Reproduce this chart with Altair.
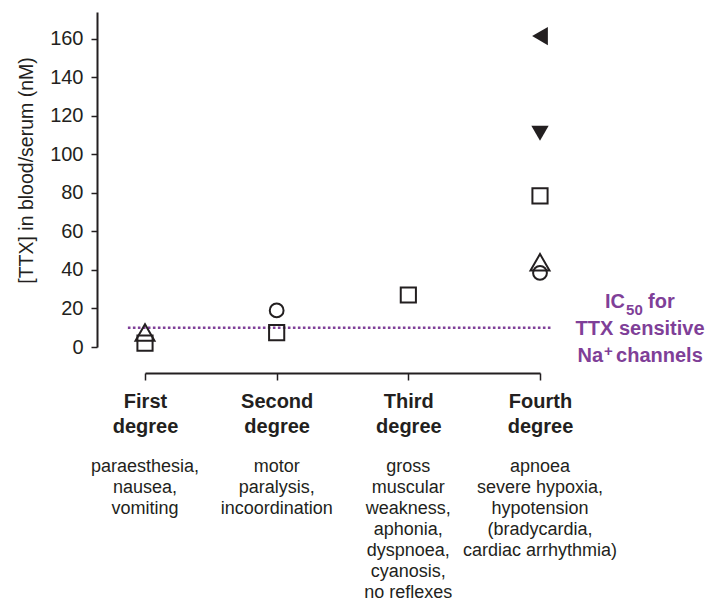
import json
import altair as alt
import pandas as pd

# ---------------- data ----------------
degree = [1, 1, 2, 2, 3, 4, 4, 4, 4, 4]
ttx = [7.5, 2, 19, 7.5, 27, 161.5, 111, 78.5, 44, 38.5]
marker = ["triangle-up", "square", "circle", "square", "square",
          "triangle-left", "triangle-down", "square", "triangle-up", "circle"]
solid = [False, False, False, False, False, True, True, False, False, False]

categories = [1, 2, 3, 4]
headers = ["First degree", "Second degree", "Third degree", "Fourth degree"]
symptoms = [
    "paraesthesia,\nnausea,\nvomiting",
    "motor\nparalysis,\nincoordination",
    "gross\nmuscular\nweakness,\naphonia,\ndyspnoea,\ncyanosis,\nno reflexes",
    "apnoea\nsevere hypoxia,\nhypotension\n(bradycardia,\ncardiac arrhythmia)",
]
y_ticks = [0, 20, 40, 60, 80, 100, 120, 140, 160]
ic50 = [10]

# ---------------- style ----------------
FONT = "Liberation Sans"
INK = "#231f20"
PURPLE = "#7f3f98"
size_map = {"triangle-up": 360, "square": 230, "circle": 190,
            "triangle-left": 330, "triangle-down": 300}

pts = pd.DataFrame({"degree": degree, "ttx": ttx, "marker": marker, "solid": solid})
pts["size"] = pts["marker"].map(size_map)
desc = pd.DataFrame({"degree": categories, "symptom": symptoms})
ic = pd.DataFrame({"ic50": ic50})

label_expr = f"split({json.dumps(headers)}[datum.value - 1], ' ')"

x_enc = alt.X(
    "degree:Q",
    scale=alt.Scale(domain=[1, 4], nice=False, zero=False),
    axis=alt.Axis(
        values=categories, labelExpr=label_expr, title=None, grid=False,
        offset=26, tickSize=7, tickWidth=1.5, tickColor=INK,
        domainWidth=2, domainColor=INK,
        labelFont=FONT, labelFontSize=20, labelFontWeight="bold", labelColor=INK,
        labelPadding=11, labelLineHeight=25, labelBaseline="top",
        labelFlush=False, labelOverlap=False,
    ),
)
y_enc = alt.Y(
    "ttx:Q",
    scale=alt.Scale(domain=[0, 174], nice=False, zero=False),
    axis=alt.Axis(
        values=y_ticks, title="[TTX] in blood/serum (nM)", grid=False,
        offset=48, tickSize=6, tickWidth=1.5, tickColor=INK,
        domainWidth=2, domainColor=INK,
        labelFont=FONT, labelFontSize=20, labelColor=INK, labelPadding=8,
        labelFlush=False,
        titleFont=FONT, titleFontSize=19.5, titleFontWeight="normal",
        titleColor=INK, titlePadding=13, titleY=158,
    ),
)

open_pts = alt.Chart(pts[~pts["solid"]]).mark_point(
    filled=False, strokeWidth=2, color=INK, opacity=1
).encode(
    x=x_enc, y=y_enc,
    shape=alt.Shape("marker:N", scale=None),
    size=alt.Size("size:Q", scale=None),
)

solid_pts = alt.Chart(pts[pts["solid"]]).mark_point(
    filled=True, color=INK, opacity=1
).encode(
    x="degree:Q", y="ttx:Q",
    shape=alt.Shape("marker:N", scale=None),
    size=alt.Size("size:Q", scale=None),
)

rule = alt.Chart(ic).mark_rule(
    color=PURPLE, strokeWidth=2.6, strokeDash=[2.6, 2.4]
).encode(x=alt.datum(0.87), x2=alt.datum(4.09), y="ic50:Q")

desc_text = alt.Chart(desc).mark_text(
    font=FONT, fontSize=18, color=INK, align="center", baseline="alphabetic",
    lineBreak="\n", lineHeight=21
).encode(x="degree:Q", y=alt.datum(-64.7), text="symptom:N")


def ic_text(txt, yval, size=20, align="center", dx=0, dy=0):
    return alt.Chart(ic).mark_text(
        text=txt, font=FONT, fontSize=size, fontWeight="bold", color=PURPLE,
        align=align, baseline="alphabetic", dx=dx, dy=dy
    ).encode(x=alt.datum(4.76), y=alt.datum(yval))


ic_layers = [
    ic_text("IC", 20.3, align="right", dx=-15),
    ic_text("50", 20.3, size=15, align="left", dx=-14, dy=7),
    ic_text("for", 20.3, align="left", dx=8),
    ic_text("TTX sensitive", 6.2),
    ic_text("Na", -7.8, align="right", dx=-37),
    ic_text("+", -7.8, size=15, align="left", dx=-36, dy=-6),
    ic_text("channels", -7.8, align="left", dx=-24),
]

chart = alt.layer(rule, open_pts, solid_pts, desc_text, *ic_layers).properties(
    width=395, height=335,
    autosize=alt.AutoSizeParams(type="none"),
    padding={"left": 137, "top": 4, "right": 165, "bottom": 254},
    background="white",
).configure_view(stroke=None)

chart.save("out.html", embed_options={"renderer": "svg", "actions": False})
